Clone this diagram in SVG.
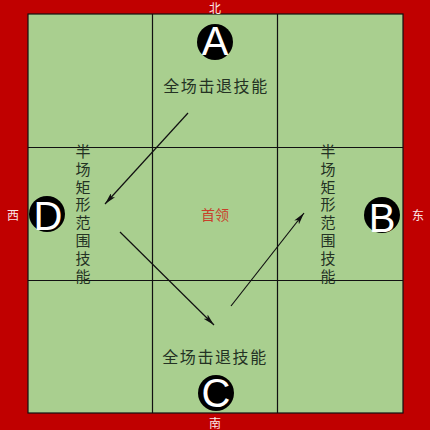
<svg xmlns="http://www.w3.org/2000/svg" width="430" height="430" viewBox="0 0 430 430">
<defs>
<style>
.cj{font-family:"Noto Sans CJK SC","Noto Sans",sans-serif;}
.lbl{font-size:16px;fill:#243224;letter-spacing:1.6px;text-anchor:middle;}
.vl{font-size:15px;fill:#243224;text-anchor:middle;writing-mode:vertical-rl;letter-spacing:2.8px;}
.dir{font-size:12px;fill:#fbe6e6;text-anchor:middle;}
.grid{stroke:#111;stroke-width:1.2;fill:none;}
.node circle{fill:#000;}
.node text{font-family:"Liberation Sans",Arial,sans-serif;font-size:40px;fill:#fff;text-anchor:middle;}
.conn line{stroke:#111;stroke-width:1.2;marker-end:url(#ah);}
</style>
<marker id="ah" viewBox="0 0 12 6" refX="12" refY="3" markerWidth="12" markerHeight="6" markerUnits="userSpaceOnUse" orient="auto">
<path d="M0,0 L12,3 L0,6 L3,3 Z" fill="#111"/>
</marker>
</defs>
<rect x="0" y="0" width="430" height="430" fill="#c00000"/>
<rect x="28" y="14" width="375" height="399" fill="#a9cf8f"/>
<g id="grid" class="grid">
<rect x="28" y="14" width="375" height="399"/>
<line x1="152.5" y1="14" x2="152.5" y2="413"/>
<line x1="277.5" y1="14" x2="277.5" y2="413"/>
<line x1="28" y1="147.5" x2="403" y2="147.5"/>
<line x1="28" y1="280.5" x2="403" y2="280.5"/>
</g>
<g id="directions" class="cj dir">
<text x="215" y="12.5">北</text>
<text x="215" y="428">南</text>
<text x="13" y="220">西</text>
<text x="418" y="220">东</text>
</g>
<g id="nodeA" class="node"><circle cx="215" cy="42" r="18"/><text x="215" y="55">A</text></g>
<g id="nodeB" class="node"><circle cx="382" cy="215" r="18"/><text x="382" y="232">B</text></g>
<g id="nodeC" class="node"><circle cx="216" cy="393" r="18"/><text x="216" y="407">C</text></g>
<g id="nodeD" class="node"><circle cx="47" cy="214" r="18"/><text x="48" y="230">D</text></g>
<g id="labelA" class="cj lbl"><text x="216" y="92">全场击退技能</text></g>
<g id="labelC" class="cj lbl"><text x="215" y="363">全场击退技能</text></g>
<g id="labelD" class="cj vl"><text x="83" y="215">半场矩形范围技能</text></g>
<g id="labelB" class="cj vl"><text x="328" y="215">半场矩形范围技能</text></g>
<g id="boss"><text class="cj" x="215" y="220" font-size="14" fill="#c8402a" text-anchor="middle">首领</text></g>
<g id="connectors" class="conn">
<line x1="188" y1="113" x2="105" y2="204"/>
<line x1="120" y1="232" x2="214" y2="325"/>
<line x1="231" y1="306" x2="304" y2="213"/>
</g>
</svg>
